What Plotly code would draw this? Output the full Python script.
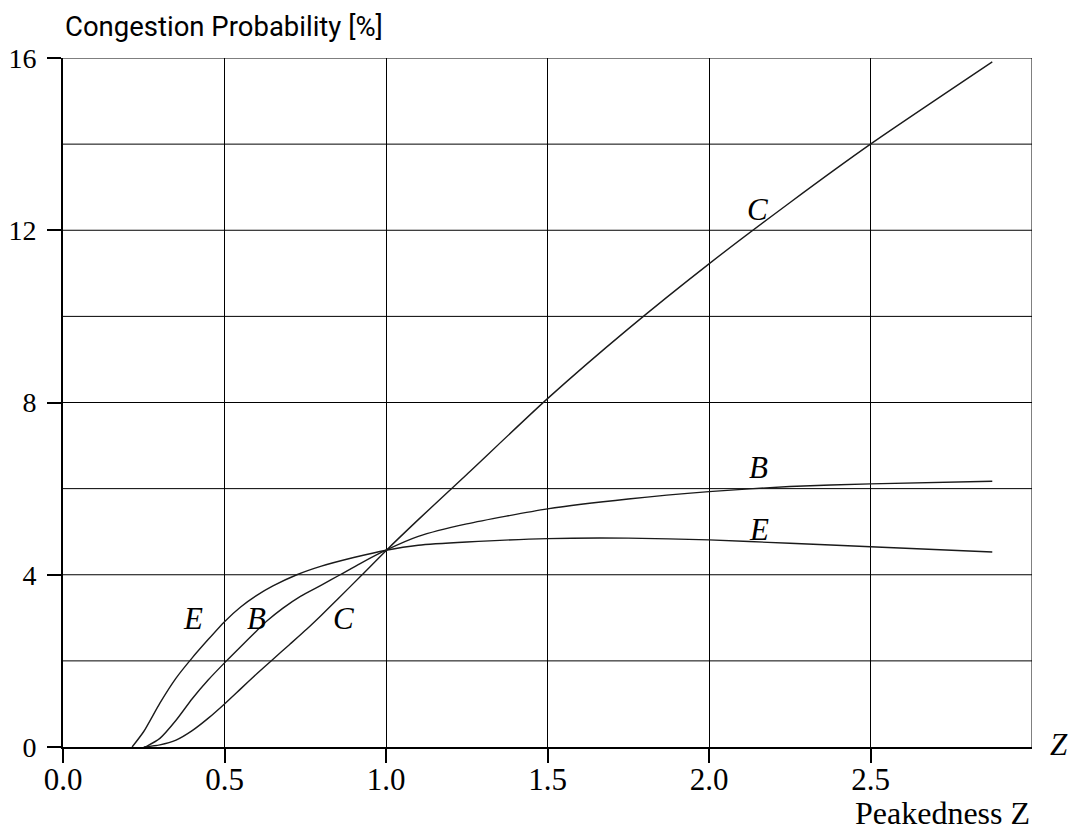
import plotly.graph_objects as go

# ---- data ----
c_x = [0.25, 0.30, 0.35, 0.40, 0.45, 0.50, 0.55, 0.60, 0.652, 0.70, 0.755, 0.80, 0.85, 0.926, 1.00,
       1.10, 1.25, 1.50, 1.75, 2.00, 2.25, 2.50, 2.877]
c_y = [0.00, 0.05, 0.16, 0.38, 0.67, 1.00, 1.35, 1.70, 2.05, 2.37, 2.74, 3.06, 3.43, 4.00, 4.56,
       5.28, 6.33, 8.09, 9.71, 11.22, 12.64, 14.00, 15.91]

b_x = [0.255, 0.30, 0.35, 0.40, 0.45, 0.506, 0.55, 0.60, 0.632, 0.68, 0.735, 0.80, 0.858, 0.92, 1.00,
       1.10, 1.25, 1.50, 1.75, 2.00, 2.25, 2.50, 2.877]
b_y = [0.00, 0.20, 0.62, 1.12, 1.56, 2.00, 2.33, 2.70, 2.93, 3.22, 3.50, 3.76, 4.00, 4.26, 4.57,
       4.89, 5.18, 5.53, 5.76, 5.93, 6.05, 6.11, 6.17]

e_x = [0.214, 0.25, 0.30, 0.35, 0.40, 0.45, 0.50, 0.55, 0.60, 0.65, 0.724, 0.80, 0.90, 1.00,
       1.10, 1.25, 1.50, 1.75, 2.00, 2.25, 2.50, 2.877]
e_y = [0.00, 0.36, 1.02, 1.60, 2.07, 2.50, 2.91, 3.25, 3.52, 3.74, 4.00, 4.20, 4.40, 4.57,
       4.685, 4.76, 4.84, 4.85, 4.81, 4.73, 4.65, 4.53]

x_ticks = [0.0, 0.5, 1.0, 1.5, 2.0, 2.5]
x_tick_text = ["0.0", "0.5", "1.0", "1.5", "2.0", "2.5"]
y_ticks = [0, 4, 8, 12, 16]
y_grid = [2, 4, 6, 8, 10, 12, 14, 16]

curve_labels = ["C", "B", "E", "E", "B", "C"]
label_x = [2.15, 2.154, 2.154, 0.402, 0.60, 0.869]
label_y = [12.49, 6.50, 5.06, 2.98, 2.98, 2.98]

X_MAX = 3.0
Y_MAX = 16

SERIF = "Liberation Serif"
SANS = "Roboto"
LINE_COL = "#1a1a1a"

fig = go.Figure()
for xs, ys in [(c_x, c_y), (b_x, b_y), (e_x, e_y)]:
    fig.add_trace(go.Scatter(
        x=xs, y=ys, mode="lines",
        line=dict(color=LINE_COL, width=1.4, shape="spline", smoothing=0.6),
        showlegend=False, hoverinfo="skip",
    ))

# horizontal grid lines (every 2) and right border
shapes = []
for g in y_grid:
    shapes.append(dict(type="line", xref="paper", yref="y", x0=0, x1=1, y0=g, y1=g,
                       line=dict(color="black", width=1), layer="below"))
shapes.append(dict(type="line", xref="x", yref="paper", x0=X_MAX, x1=X_MAX, y0=0, y1=1,
                   line=dict(color="black", width=1), layer="below"))

annotations = []
for t, lx, ly in zip(curve_labels, label_x, label_y):
    annotations.append(dict(x=lx, y=ly, xref="x", yref="y", text=f"<i>{t}</i>",
                            showarrow=False, font=dict(family=SERIF, size=31, color="black")))
annotations.append(dict(x=0, y=1.045, xref="paper", yref="paper", text="Congestion Probability [%]",
                        showarrow=False, xanchor="left", yanchor="middle",
                        font=dict(family=SANS, size=27.5, color="black")))
annotations.append(dict(x=1.0, y=-0.096, xref="paper", yref="paper", text="Peakedness Z",
                        showarrow=False, xanchor="right", yanchor="middle",
                        font=dict(family=SERIF, size=32, color="black")))
annotations.append(dict(x=1.028, y=0.003, xref="paper", yref="paper", text="<i>Z</i>",
                        showarrow=False, xanchor="center", yanchor="middle",
                        font=dict(family=SERIF, size=31, color="black")))

# the page body adds an 8px margin, so the figure is 8px smaller on each side
fig.update_layout(
    width=1069, height=822,
    margin=dict(l=55, r=45, t=50, b=83),
    paper_bgcolor="white", plot_bgcolor="white",
    shapes=shapes, annotations=annotations,
    xaxis=dict(range=[0, X_MAX], tickvals=x_ticks, ticktext=x_tick_text,
               showgrid=True, gridcolor="black", gridwidth=1,
               showline=True, linecolor="black", linewidth=2,
               ticks="outside", ticklen=14, tickwidth=2, tickcolor="black",
               zeroline=False, automargin=False, ticklabelstandoff=-10,
               tickfont=dict(family=SERIF, size=31, color="black")),
    yaxis=dict(range=[0, Y_MAX], tickvals=y_ticks,
               showgrid=False,
               showline=True, linecolor="black", linewidth=2,
               ticks="outside", ticklen=14, tickwidth=2, tickcolor="black",
               zeroline=False, automargin=False, ticklabelstandoff=5,
               tickfont=dict(family=SERIF, size=28, color="black")),
)

fig.write_html("out.html")
